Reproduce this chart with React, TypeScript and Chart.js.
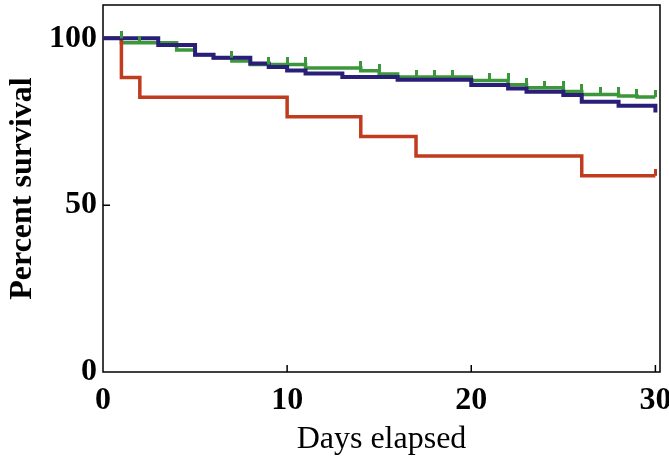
import React, { useEffect, useRef } from "react";
import { Chart, registerables } from "chart.js";

Chart.register(...registerables);

// ---- Data ----
const redDays = [0, 1, 2, 10, 14, 17, 26, 30];
const redValues = [100, 88.24, 82.35, 76.47, 70.59, 64.71, 58.82, 58.82];
const redCensor = [30];

const blueDays = [0, 3, 5, 6, 8, 9, 10, 11, 13, 16, 20, 22, 23, 25, 26, 28, 30];
const blueValues = [100, 98.0, 95.1, 94.2, 92.5, 91.4, 90.4, 89.5, 88.4, 87.6, 86.0, 85.0, 84.0, 83.0, 81.0, 79.8, 77.8];

const greenDays = [0, 1, 4, 5, 6, 7, 8, 11, 14, 15, 16, 20, 22, 23, 25, 26, 28, 29, 30];
const greenValues = [100, 98.7, 96.5, 95.1, 94.2, 93.2, 92.2, 91.1, 90.3, 89.3, 88.4, 87.4, 86.1, 85.2, 84.1, 83.2, 82.7, 82.4, 82.4];
const greenCensor = [1, 2, 7, 9, 10, 11, 14, 15, 17, 18, 19, 21, 22, 23, 24, 25, 26, 27, 28, 29, 30];

const xTickValues = [0, 10, 20, 30];
const yTickValues = [0, 50, 100];
const xInnerTicks = [10, 20, 30];
const yInnerTicks = [50, 100];

const RED = "#c13b1f";
const BLUE = "#2a1f78";
const GREEN = "#3c963a";

const FONT_FAMILY = "'Liberation Serif', 'Times New Roman', serif";

function toPoints(days: number[], values: number[]) {
  return days.map((d, i) => ({ x: d, y: values[i] }));
}

// value of the step curve just before time t
function levelBefore(days: number[], values: number[], t: number) {
  let v = values[0];
  for (let i = 0; i < days.length; i++) {
    if (days[i] < t) v = values[i];
  }
  return v;
}

function censorPoints(days: number[], values: number[], ticks: number[]) {
  return ticks.map((t) => ({ x: t, y: levelBefore(days, values, t) }));
}

function makeTickImage(color: string) {
  const c = document.createElement("canvas");
  c.width = 3;
  c.height = 14;
  const g = c.getContext("2d")!;
  g.fillStyle = color;
  g.fillRect(0, 0, 3, 7);
  return c;
}

const framePlugin = {
  id: "frame",
  beforeDatasetsDraw(chart: any) {
    const { ctx, chartArea } = chart;
    const xs = chart.scales.x;
    const ys = chart.scales.y;
    ctx.save();
    ctx.strokeStyle = "#000";
    ctx.lineWidth = 1.5;
    ctx.strokeRect(chartArea.left, chartArea.top, chartArea.right - chartArea.left, chartArea.bottom - chartArea.top);
    ctx.beginPath();
    for (const v of xInnerTicks) {
      const px = xs.getPixelForValue(v);
      ctx.moveTo(px, chartArea.bottom);
      ctx.lineTo(px, chartArea.bottom - 7);
    }
    for (const v of yInnerTicks) {
      const py = ys.getPixelForValue(v);
      ctx.moveTo(chartArea.left, py);
      ctx.lineTo(chartArea.left + 7, py);
    }
    ctx.stroke();
    ctx.restore();
  },
};

export default function App() {
  const ref = useRef<HTMLCanvasElement>(null);

  useEffect(() => {
    if (!ref.current) return;
    const lineCommon = {
      stepped: "before" as const,
      pointRadius: 0,
      fill: false,
      borderJoinStyle: "miter" as const,
      borderCapStyle: "butt" as const,
      tension: 0,
    };
    const chart = new Chart(ref.current, {
      type: "line",
      data: {
        datasets: [
          {
            ...lineCommon,
            label: "Green",
            data: toPoints(greenDays, greenValues),
            borderColor: GREEN,
            borderWidth: 3.5,
            order: 4,
          },
          {
            ...lineCommon,
            label: "Red",
            data: toPoints(redDays, redValues),
            borderColor: RED,
            borderWidth: 3.5,
            order: 3,
          },
          {
            ...lineCommon,
            label: "Blue",
            data: toPoints(blueDays, blueValues),
            borderColor: BLUE,
            borderWidth: 4,
            order: 2,
          },
          {
            type: "scatter",
            label: "Green censored",
            data: censorPoints(greenDays, greenValues, greenCensor),
            pointStyle: makeTickImage(GREEN),
            showLine: false,
            order: 1,
          } as any,
          {
            type: "scatter",
            label: "Red censored",
            data: censorPoints(redDays, redValues, redCensor),
            pointStyle: makeTickImage(RED),
            showLine: false,
            order: 1,
          } as any,
        ],
      },
      options: {
        responsive: false,
        animation: false,
        events: [],
        layout: { padding: { top: 2, right: 9, left: 0, bottom: 0 } },
        plugins: {
          legend: { display: false },
          tooltip: { enabled: false },
        },
        scales: {
          x: {
            type: "linear",
            min: 0,
            max: 30.25,
            grid: { display: false, drawTicks: false },
            border: { display: false },
            afterBuildTicks: (s: any) => {
              s.ticks = xTickValues.map((v) => ({ value: v }));
            },
            afterFit: (s: any) => {
              s.height = 89;
              s.paddingLeft = 0;
              s.paddingRight = 0;
            },
            ticks: {
              color: "#000",
              padding: 10,
              maxRotation: 0,
              font: { family: FONT_FAMILY, size: 32, weight: "bold" },
            },
            title: {
              display: true,
              text: "Days elapsed",
              color: "#000",
              padding: { top: 0, bottom: 2 },
              font: { family: FONT_FAMILY, size: 32, weight: "normal" },
            },
          },
          y: {
            type: "linear",
            min: 0,
            max: 110,
            grid: { display: false, drawTicks: false },
            border: { display: false },
            afterBuildTicks: (s: any) => {
              s.ticks = yTickValues.map((v) => ({ value: v }));
            },
            afterFit: (s: any) => {
              s.width = 103;
              s.paddingTop = 0;
              s.paddingBottom = 0;
            },
            ticks: {
              color: "#000",
              padding: 6,
              font: { family: FONT_FAMILY, size: 32, weight: "bold" },
            },
            title: {
              display: true,
              text: "Percent survival",
              color: "#000",
              padding: { top: 4, bottom: 0 },
              font: { family: FONT_FAMILY, size: 32, weight: "bold" },
            },
          },
        },
      },
      plugins: [framePlugin],
    } as any);
    return () => chart.destroy();
  }, []);

  return (
    <div style={{ position: "fixed", left: 0, top: 0, width: 669, height: 461, background: "#fff" }}>
      <canvas ref={ref} width={669} height={461} style={{ display: "block" }} />
    </div>
  );
}
